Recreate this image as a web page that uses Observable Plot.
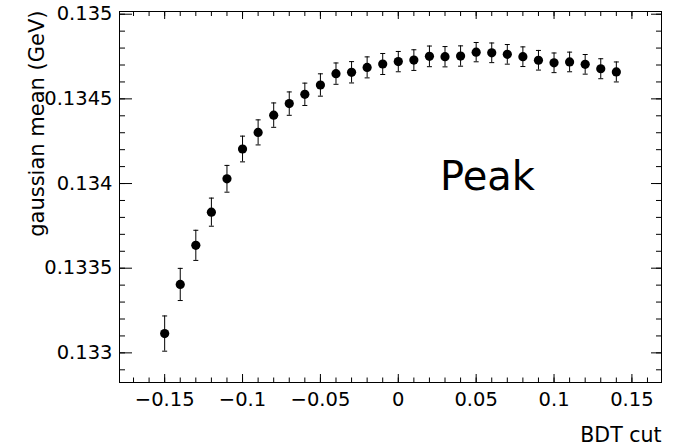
<!DOCTYPE html>
<html><head><meta charset="utf-8">
<script src="https://cdn.jsdelivr.net/npm/d3@7"></script>
<script src="https://cdn.jsdelivr.net/npm/@observablehq/plot@0.6"></script>
<style>body{margin:0;background:#fff} svg{display:block}</style>
</head><body><div id="chart"></div>
<script>
const bdtCut = [-0.15,-0.14,-0.13,-0.12,-0.11,-0.10,-0.09,-0.08,-0.07,-0.06,-0.05,-0.04,-0.03,-0.02,-0.01,0.00,0.01,0.02,0.03,0.04,0.05,0.06,0.07,0.08,0.09,0.10,0.11,0.12,0.13,0.14];
const gaussMean = [0.133114,0.133404,0.133635,0.133831,0.134028,0.134204,0.134302,0.134404,0.134472,0.134527,0.134582,0.134649,0.134657,0.134686,0.134706,0.134720,0.134729,0.134751,0.134749,0.134753,0.134776,0.134772,0.134763,0.134749,0.134728,0.134713,0.134718,0.134704,0.134678,0.134659];
const gaussErr = [0.000104,0.000095,0.000089,0.000083,0.000079,0.000076,0.000074,0.000072,0.000069,0.000066,0.000066,0.000063,0.000063,0.000062,0.000062,0.000060,0.000061,0.000061,0.000060,0.000060,0.000057,0.000058,0.000058,0.000058,0.000058,0.000058,0.000058,0.000058,0.000059,0.000059];
const xTickValues = [-0.15,-0.1,-0.05,0,0.05,0.1,0.15];
const yTickValues = [0.133,0.1335,0.134,0.1345,0.135];
const xLabel = "BDT cut";
const yLabel = "gaussian mean (GeV)";
const annotation = "Peak";

const data = bdtCut.map((x, i) => ({x, y: gaussMean[i], lo: gaussMean[i] - gaussErr[i], hi: gaussMean[i] + gaussErr[i]}));
const xMinor = d3.range(-17, 17).map(d => d / 100);
const yMinor = d3.range(1329, 1351).map(d => d / 10000);

const capSymbol = {draw(ctx, size) { const w = Math.sqrt(size / Math.PI); ctx.moveTo(-w, 0); ctx.lineTo(w, 0); }};
const blank = () => "";

const chart = Plot.plot({
  width: 679, height: 446,
  marginLeft: 119, marginRight: 18, marginTop: 11, marginBottom: 64,
  x: {domain: [-0.179, 0.169]},
  y: {domain: [0.132825, 0.135016]},
  style: {fontFamily: "DejaVu Sans", fontSize: "19.5px", color: "#000", background: "#fff"},
  marks: [
    Plot.frame({stroke: "#000"}),
    Plot.axisX(xMinor, {anchor: "bottom", tickSize: -4.5, tickFormat: blank, label: null}),
    Plot.axisX(xTickValues, {anchor: "bottom", tickSize: -8, tickPadding: 18, tickFormat: d3.format(".2~f"), label: null}),
    Plot.axisX(xMinor, {anchor: "top", tickSize: -4, tickFormat: blank, label: null}),
    Plot.axisX(xTickValues, {anchor: "top", tickSize: -7, tickFormat: blank, label: null}),
    Plot.axisY(yMinor, {anchor: "left", tickSize: -6, tickFormat: blank, label: null}),
    Plot.axisY(yTickValues, {anchor: "left", tickSize: -13, tickPadding: 20, tickFormat: d3.format(".4~f"), label: null}),
    Plot.axisY(yMinor, {anchor: "right", tickSize: -6, tickFormat: blank, label: null}),
    Plot.axisY(yTickValues, {anchor: "right", tickSize: -11, tickFormat: blank, label: null}),
    Plot.ruleX(data, {x: "x", y1: "lo", y2: "hi", stroke: "#000", strokeWidth: 1}),
    Plot.dot(data, {x: "x", y: "lo", symbol: capSymbol, r: 2.5, fill: "none", stroke: "#000", strokeWidth: 1}),
    Plot.dot(data, {x: "x", y: "hi", symbol: capSymbol, r: 2.5, fill: "none", stroke: "#000", strokeWidth: 1}),
    Plot.dot(data, {x: "x", y: "y", r: 4.6, fill: "#000", stroke: "none"}),
    Plot.text([annotation], {frameAnchor: "middle", text: d => d, dx: 97, dy: -7, lineAnchor: "bottom", fontSize: 40}),
    Plot.text([xLabel], {frameAnchor: "bottom-right", text: d => d, textAnchor: "end", lineAnchor: "bottom", dy: 59, fontSize: 20.5}),
    Plot.text([yLabel], {frameAnchor: "top-left", text: d => d, rotate: -90, textAnchor: "end", lineAnchor: "bottom", dx: -76, dy: -1, fontSize: 21})
  ]
});
document.getElementById("chart").appendChild(chart);
</script>
</body></html>
